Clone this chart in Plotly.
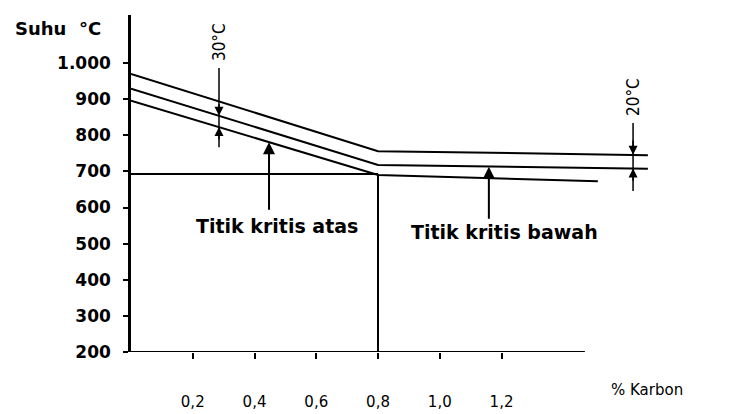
import plotly.graph_objects as go

# ---- data (carbon %, temperature °C) ----
x_top = [0.0, 0.8, 1.674]
y_top = [970, 756, 745]
x_mid = [0.0, 0.8, 1.674]
y_mid = [929, 718, 707]
x_bot = [0.0, 0.8, 1.512]
y_bot = [896, 690, 673]
x_ref700 = [0.0, 0.8]
y_ref700 = [693, 693]
x_eut = [0.8, 0.8]
y_eut = [693, 200]

x_tickvals = [0.2, 0.4, 0.6, 0.8, 1.0, 1.2]
x_ticktext = ["0,2", "0,4", "0,6", "0,8", "1,0", "1,2"]
y_tickvals = [200, 300, 400, 500, 600, 700, 800, 900, 1000]
y_ticktext = ["200", "300", "400", "500", "600", "700", "800", "900", "1.000"]

X_RANGE = [0.0, 1.71]
Y_RANGE = [200, 1133]
X_AXIS_END = 1.47

BLACK = "#000000"
FONT_B = "DejaVu Sans"
FONT_N = "Liberation Sans Narrow, DejaVu Sans Condensed, Liberation Sans, Arial"

fig = go.Figure()
for xs, ys in [(x_top, y_top), (x_mid, y_mid), (x_bot, y_bot), (x_ref700, y_ref700), (x_eut, y_eut)]:
    fig.add_trace(go.Scatter(x=xs, y=ys, mode="lines", line=dict(color=BLACK, width=2),
                             hoverinfo="skip", showlegend=False))

# x axis line (shorter than plot area)
fig.add_shape(type="line", xref="x", yref="y", x0=X_RANGE[0], x1=X_AXIS_END, y0=200, y1=200,
              line=dict(color=BLACK, width=2))

# dimension lines
fig.add_shape(type="line", xref="x", yref="y", x0=0.285, x1=0.285, y0=986, y1=767,
              line=dict(color=BLACK, width=1.5))
fig.add_shape(type="line", xref="x", yref="y", x0=1.626, x1=1.626, y0=834, y1=646,
              line=dict(color=BLACK, width=1.5))

def arrow(xt, yt, xs, ys, w=2):
    fig.add_annotation(x=xt, y=yt, ax=xs, ay=ys, xref="x", yref="y", axref="x", ayref="y",
                       text="", showarrow=True, arrowhead=2, arrowsize=1.2, arrowwidth=w,
                       arrowcolor=BLACK)

# dimension arrowheads
arrow(0.285, 854, 0.285, 890, 1.5)
arrow(0.285, 823, 0.285, 785, 1.5)
arrow(1.626, 746, 1.626, 790, 1.5)
arrow(1.626, 708, 1.626, 670, 1.5)
# pointer arrows
arrow(0.447, 781, 0.447, 590)
arrow(1.159, 713, 1.159, 565)

def label(x, y, text, size, family=FONT_B, weight="bold", xanchor="center", angle=0,
          xref="x", yref="y"):
    fig.add_annotation(x=x, y=y, xref=xref, yref=yref, text=text, showarrow=False,
                       xanchor=xanchor, yanchor="middle", textangle=angle,
                       font=dict(family=family, size=size, color=BLACK, weight=weight))

# paper coords: plot area is 528 x 337 px starting at (131, 15)
label(-118 / 528, (352 - 28) / 337, "Suhu  °C", 18, xanchor="left", xref="paper", yref="paper")
label((647 - 131) / 528, (352 - 390) / 337, "% Karbon", 15, weight="normal",
      xref="paper", yref="paper")
label(0.473, 549, "Titik kritis atas", 19)
label(1.211, 532, "Titik kritis bawah", 19)
label(0.285, 1058, "30°C", 17, family=FONT_N, weight="normal", angle=-90)
label(1.626, 906, "20°C", 17, family=FONT_N, weight="normal", angle=-90)

fig.update_xaxes(range=X_RANGE, showline=False, showgrid=False, zeroline=False,
                 tickmode="array", tickvals=x_tickvals, ticktext=x_ticktext,
                 ticks="outside", ticklen=6, tickwidth=2, tickcolor=BLACK,
                 ticklabelstandoff=30, automargin=False,
                 tickfont=dict(family=FONT_B, size=15, color=BLACK))
fig.update_yaxes(range=Y_RANGE, showline=True, linecolor=BLACK, linewidth=2.5,
                 showgrid=False, zeroline=False, automargin=False,
                 tickmode="array", tickvals=y_tickvals, ticktext=y_ticktext,
                 ticks="outside", ticklen=5, tickwidth=2, tickcolor=BLACK,
                 ticklabelstandoff=9,
                 tickfont=dict(family=FONT_B, size=17, color=BLACK, weight="bold"))

fig.update_layout(width=744, height=414, margin=dict(l=131, r=85, t=15, b=62),
                  plot_bgcolor="white", paper_bgcolor="white", showlegend=False)

fig.write_html("out.html", config={"displayModeBar": False})
